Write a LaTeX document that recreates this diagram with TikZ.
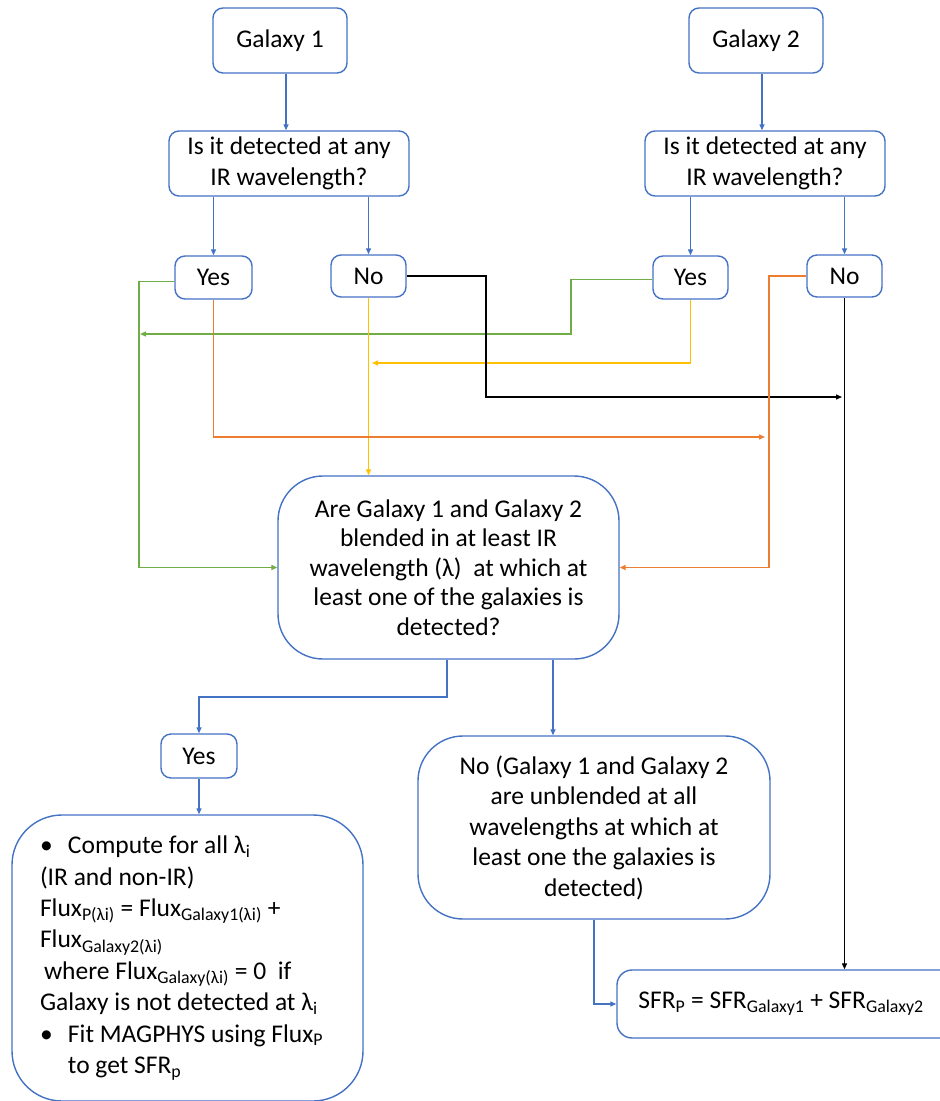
\documentclass[tikz,border=0pt]{standalone}
\usepackage{fontspec}
\setmainfont{Carlito}
\usetikzlibrary{arrows.meta}
\definecolor{boxblue}{HTML}{4472C4}
\definecolor{grn}{HTML}{70AD47}
\definecolor{yel}{HTML}{FFC000}
\definecolor{orn}{HTML}{ED7D31}
\tikzset{
	box/.style={draw=boxblue, line width=1.4pt, rounded corners=10pt, align=center, inner sep=0pt, font=\fontsize{25.5}{30.5}\selectfont},
	flow/.style={draw=boxblue, line width=1.3pt, -{Triangle[length=6pt,width=5pt]}},
}

\begin{document}
\begin{tikzpicture}[x=1pt, y=-1pt]
		\useasboundingbox (0,0) rectangle (940,1101);
		\node[box, minimum width=134, minimum height=65] (g1) at (280, 40.5) {Galaxy 1};
		\node[box, minimum width=134, minimum height=65] (g2) at (756, 40.5) {Galaxy 2};
		\node[box, minimum width=240, minimum height=65] (det1) at (289, 163.5) {Is it detected at any\\IR wavelength?};
		\node[box, minimum width=240, minimum height=65] (det2) at (765, 163.5) {Is it detected at any\\IR wavelength?};
		\node[box, minimum width=77, minimum height=43] (yes1) at (213.5, 277.5) {Yes};
		\node[box, minimum width=75, minimum height=42] (no1) at (368.5, 276) {No};
		\node[box, minimum width=75, minimum height=43] (yes2) at (690.5, 277.5) {Yes};
		\node[box, minimum width=75, minimum height=42] (no2) at (844.5, 276) {No};
		\node[box, rounded corners=45pt, minimum width=341, minimum height=183, font=\fontsize{25.5}{29.5}\selectfont] (blend) at (448.5, 567.5) {Are Galaxy 1 and Galaxy 2\\blended in at least IR\\wavelength (λ)\ \ at which at\\least one of the galaxies is\\detected?};
		\node[box, minimum width=76, minimum height=44] (yes3) at (199, 756) {Yes};
		\node[box, rounded corners=45pt, minimum width=352, minimum height=183] (unbl) at (594, 827.5) {No (Galaxy 1 and Galaxy 2\\are unblended at all\\wavelengths at which at\\least one the galaxies is\\detected)};
		\node[box, rounded corners=50pt, minimum width=351, minimum height=286, align=left, text width=295, font=\fontsize{25.5}{31.4}\selectfont] (flux) at (187.5, 958) {\spaceskip=0pt\xspaceskip=0pt\makebox[28pt][l]{•}Compute for all λ\textsubscript{i}\\(IR and non-IR)\\Flux\textsubscript{P(λi)} = Flux\textsubscript{Galaxy1(λi)} +\\Flux\textsubscript{Galaxy2(λi)}\\\hspace*{4pt}where Flux\textsubscript{Galaxy(λi)} = 0\ \ if\\Galaxy is not detected at λ\textsubscript{i}\\\makebox[28pt][l]{•}Fit MAGPHYS using Flux\textsubscript{P}\\\hspace*{28pt}to get SFR\textsubscript{p}};
		\node[box, rounded corners=15pt, minimum width=360, minimum height=68] (sfr) at (797, 1004) {\makebox[328pt]{SFR\textsubscript{P} = SFR\textsubscript{Galaxy1} + SFR\textsubscript{Galaxy2}}\hspace*{32pt}};
		\coordinate (gcorner) at (139, 450);
		\coordinate (g2a) at (571, 334);
		\coordinate (g2b) at (140, 334);
		\coordinate (ytip) at (372, 363);
		\coordinate (k1) at (486, 397);
		\coordinate (k2) at (842, 397);
		\coordinate (otip) at (765, 437);
		\coordinate (ocorner) at (769, 450);
		\coordinate (split) at (447, 697);
		\coordinate (nx) at (553, 0);
		\draw[flow] ([xshift=6pt]g1.south) -- ([xshift=6pt]g1.south |- det1.north);
		\draw[flow] ([xshift=6pt]g2.south) -- ([xshift=6pt]g2.south |- det2.north);
		\draw[flow] (det1.south -| yes1) -- (yes1.north);
		\draw[flow] (det1.south -| no1) -- (no1.north);
		\draw[flow] (det2.south -| yes2) -- (yes2.north);
		\draw[flow] (det2.south -| no2) -- (no2.north);
		\draw[flow, draw=grn] ([yshift=-4pt]yes1.west) -| (gcorner) |- (blend.west);
		\draw[flow, draw=grn] ([yshift=-2pt]yes2.west) -| (g2a) -- (g2b);
		\draw[flow, draw=yel] (no1.south) -- (no1.south |- blend.north);
		\draw[flow, draw=yel] (yes2.south) |- (ytip);
		\draw[flow, draw=black] (no1.east) -| (k1) -- (k2);
		\draw[flow, draw=black] (no2.south) -- (no2.south |- sfr.north);
		\draw[flow, draw=orn] (yes1.south) |- (otip);
		\draw[flow, draw=orn] (no2.west) -| (ocorner) |- (blend.east);
		\draw[flow] (split |- blend.south) -- (split) -| (yes3.north);
		\draw[flow] (yes3.south) -- (yes3.south |- flux.north);
		\draw[flow] (nx |- blend.south) -- (nx |- unbl.north);
		\draw[flow] (unbl.south) |- (sfr.west);
	\end{tikzpicture}
\end{document}
